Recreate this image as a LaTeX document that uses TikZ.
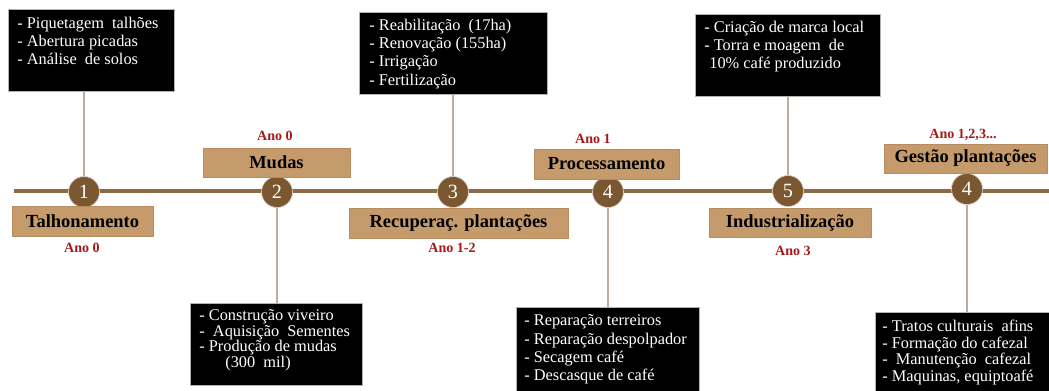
\documentclass[tikz,border=0pt]{standalone}
\usepackage{fontspec}
\setmainfont{Liberation Serif}
\usetikzlibrary{positioning}

\definecolor{linebrown}{RGB}{140,107,69}
\definecolor{dotbrown}{RGB}{122,87,48}
\definecolor{tanfill}{RGB}{198,155,108}
\definecolor{tanedge}{RGB}{182,140,96}
\definecolor{stemgrey}{RGB}{188,172,158}
\definecolor{anored}{RGB}{165,25,25}

\tikzstyle{stem} = [stemgrey, line width=0.8pt]
\tikzstyle{dot} = [circle, fill=dotbrown, draw=white!70!dotbrown, minimum size=0.62cm, inner sep=0pt, text=white, font=\fontsize{11.5}{12}\selectfont]
\tikzstyle{phase} = [fill=tanfill, draw=tanedge, inner sep=0pt, font=\fontsize{10.5}{12}\selectfont\bfseries]
\tikzstyle{ano} = [text=anored, inner sep=0pt, font=\fontsize{8}{9}\selectfont\bfseries]
\tikzstyle{note} = [fill=black, draw=gray!60, inner sep=0pt, anchor=north west]
\tikzstyle{notetext} = [text=white, align=left, inner sep=0pt, font=\fontsize{9.3}{10.4}\selectfont]

\begin{document}
\begin{tikzpicture}[x=0.02cm,y=-0.02cm]
\useasboundingbox (0,0) rectangle (1049,390);

% --- Time line ---
\coordinate (tl-start) at (14,191);
\coordinate (tl-end) at (1060,191);
\draw[linebrown, line width=2pt] (tl-start) -- (tl-end);

\node[dot] (c1) at (84,192) {1};
\node[dot] (c2) at (277,192) {2};
\node[dot] (c3) at (453,192) {3};
\node[dot] (c4) at (608,192) {4};
\node[dot] (c5) at (788,191) {5};
\node[dot] (c6) at (967,189) {4};

% --- Phases ---
\node[phase, minimum width=2.82cm, minimum height=0.6cm] (talh) at (82.5,221) {Talhonamento};
\node[phase, minimum width=2.94cm, minimum height=0.58cm] (mudas) at (276.5,162.5) {Mudas};
\node[phase, minimum width=4.38cm, minimum height=0.6cm] (recup) at (458.5,223) {Recuperaç. plantações};
\node[phase, minimum width=2.9cm, minimum height=0.6cm] (proc) at (606.5,164) {Processamento};
\node[phase, minimum width=3.24cm, minimum height=0.58cm] (indus) at (790,222.5) {Industrialização};
\node[phase, minimum width=3.26cm, minimum height=0.58cm] (gest) at (965.5,158.5) {Gestão plantações};

% years
\node[ano] (a1) at (82,248) {Ano 0};
\node[ano] (a2) at (275,136) {Ano 0};
\node[ano] (a3) at (452,248) {Ano 1-2};
\node[ano] (a4) at (593,139) {Ano 1};
\node[ano] (a5) at (793,251) {Ano 3};
\node[ano] (a6) at (963,135) {Ano 1,2,3...};

% --- Activities ---
\node[note, minimum width=3.32cm, minimum height=1.64cm] (b1) at (8,9) {};
\node[notetext, below right=0.15cm and 0.18cm of b1.north west] (t1)
  {- Piquetagem\ \ talhões\\- Abertura picadas\\- Análise\ \ de solos};

\node[note, minimum width=3.44cm, minimum height=1.64cm] (b2) at (190,303) {};
\node[notetext, font=\fontsize{9.3}{8.8}\selectfont, below right=0.13cm and 0.18cm of b2.north west] (t2)
  {- Construção viveiro\\-\ \ Aquisição\ \ Sementes\\- Produção de mudas\\\hspace*{0.52cm}(300\ \ mil)};

\node[note, minimum width=3.76cm, minimum height=1.64cm] (b3) at (359,12) {};
\node[notetext, below right=0.13cm and 0.2cm of b3.north west] (t3)
  {- Reabilitação\ \ (17ha)\\- Renovação (155ha)\\- Irrigação\\- Fertilização};

\node[note, minimum width=3.66cm, minimum height=1.8cm] (b4) at (516,307) {};
\node[notetext, below right=0.15cm and 0.16cm of b4.north west] (t4)
  {- Reparação terreiros\\- Reparação despolpador\\- Secagem café\\- Descasque de café};

\node[note, minimum width=3.7cm, minimum height=1.64cm] (b5) at (695,14) {};
\node[notetext, below right=0.13cm and 0.18cm of b5.north west] (t5)
  {- Criação de marca local\\- Torra e moagem\ \ de\\\hspace*{0.1cm}10\% café produzido};

\node[note, minimum width=3.8cm, minimum height=1.8cm] (b6) at (875,312) {};
\node[notetext, font=\fontsize{9.3}{9.5}\selectfont, below right=0.15cm and 0.14cm of b6.north west] (t6)
  {- Tratos culturais\ \ afins\\- Formação do cafezal\\-\ \ Manutenção\ \ cafezal\\- Maquinas, equiptoafé};

% stems
\draw[stem] (c1 |- b1.south) -- (c1);
\draw[stem] (c2) -- (c2 |- b2.north);
\draw[stem] (c3 |- b3.south) -- (c3);
\draw[stem] (c4) -- (c4 |- b4.north);
\draw[stem] (c5 |- b5.south) -- (c5);
\draw[stem] (c6) -- (c6 |- b6.north);

\end{tikzpicture}
\end{document}
